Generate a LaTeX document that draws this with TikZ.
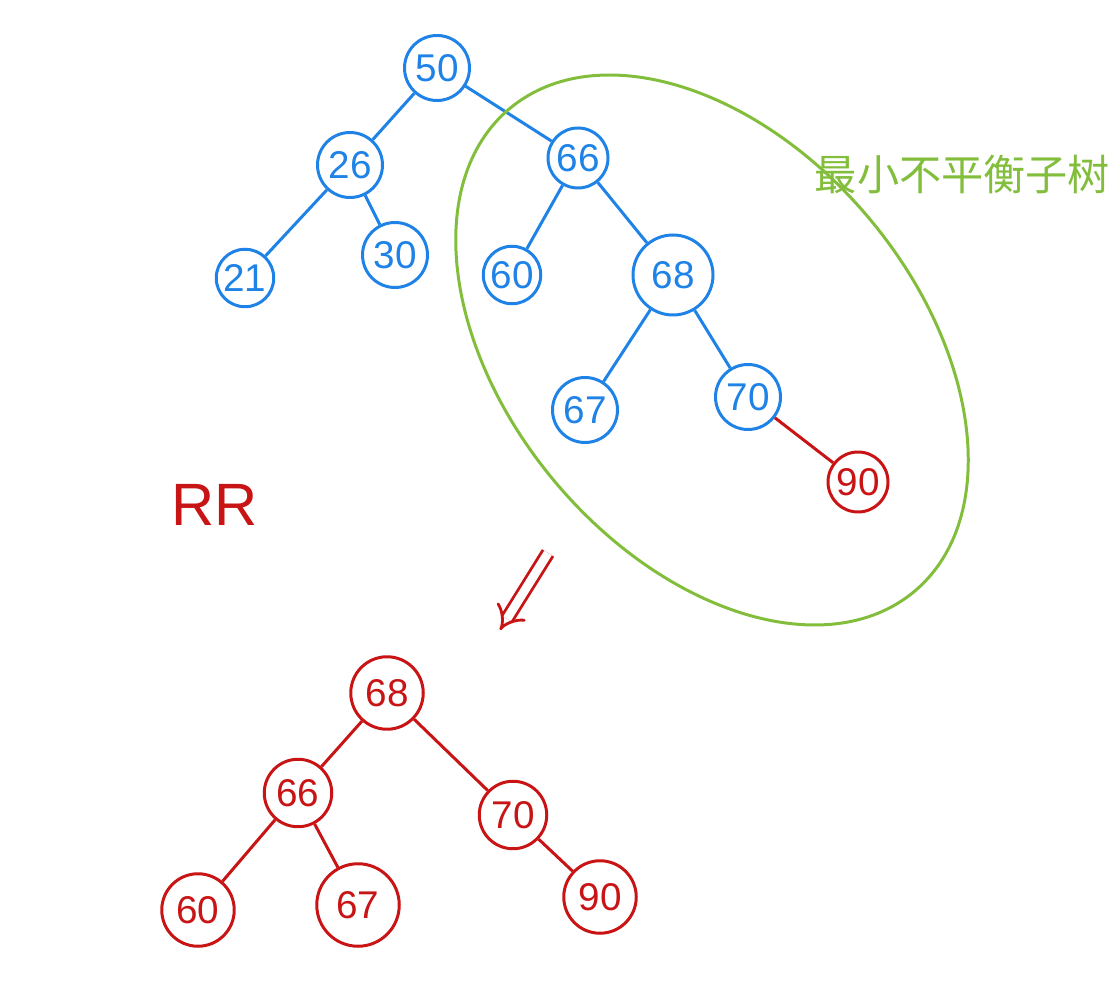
\documentclass[tikz,border=0pt]{standalone}
\usepackage{fontspec}
\setmainfont{Liberation Sans}
\newfontfamily\cjk{Noto Sans CJK SC}
\usetikzlibrary{arrows.meta, positioning}
\definecolor{oldcol}{HTML}{1E82E6}
\definecolor{newcol}{HTML}{C81414}
\definecolor{subcol}{HTML}{82BE3C}
\tikzset{
  onode/.style={circle, draw=oldcol, text=oldcol, line width=1.7pt, minimum size=1.3cm, inner sep=1pt, font=\fontsize{22}{24}\selectfont},
  rnode/.style={circle, draw=newcol, text=newcol, line width=1.7pt, minimum size=1.45cm, inner sep=1pt, font=\fontsize{22}{24}\selectfont},
  oedge/.style={draw=oldcol, line width=1.7pt},
  redge/.style={draw=newcol, line width=1.7pt},
}

\begin{document}
\begin{tikzpicture}
  \useasboundingbox (0,0) rectangle (22.32,20);
  % ── tree before rotation (blue) ──────────────────────────────────
  \node[onode] (t50) at ( 8.74,18.64) {50};
  \node[onode] (t26) at ( 7.00,16.70) {26};
  \node[onode, minimum size=1.15cm] (t21) at ( 4.90,14.44) {21};
  \node[onode] (t30) at ( 7.90,14.90) {30};
  \node[onode, minimum size=1.2cm] (t66) at (11.56,16.84) {66};
  \node[onode, minimum size=1.15cm] (t60) at (10.24,14.50) {60};
  \node[onode, minimum size=1.6cm] (t68) at (13.46,14.50) {68};
  \node[onode] (t67) at (11.70,11.80) {67};
  \node[onode] (t70) at (14.96,12.06) {70};
  \node[rnode, minimum size=1.2cm] (t90) at (17.16,10.36) {90};
  \draw[oedge] (t50) -- (t26);
  \draw[oedge] (t50) -- (t66);
  \draw[oedge] (t26) -- (t21);
  \draw[oedge] (t26) -- (t30);
  \draw[oedge] (t66) -- (t60);
  \draw[oedge] (t66) -- (t68);
  \draw[oedge] (t68) -- (t67);
  \draw[oedge] (t68) -- (t70);
  \draw[redge] (t70) -- (t90);
  % ── minimal unbalanced subtree ───────────────────────────────────
  \draw[subcol, line width=1.7pt, shift={(14.24,13.0)}, rotate=-50]
    (0,0) ellipse [x radius=6.3, y radius=4.1];
  \node[text=subcol, font=\cjk\fontsize{24}{26}\selectfont] (sub) at (19.25,16.5) {最小不平衡子树};
  % ── rotation label and arrow ─────────────────────────────────────
  \node[text=newcol, font=\fontsize{34}{36}\selectfont] (rr) at (4.3,9.9) {RR};
  \coordinate (arrS) at (10.96,8.94);
  \coordinate (arrE) at (10.00,7.40);
  \draw[newcol, line width=1.6pt, double distance=5pt, -{Implies[length=12pt]}] (arrS) -- (arrE);
  % ── tree after rotation (red) ────────────────────────────────────
  \node[rnode] (b68) at ( 7.74, 6.14) {68};
  \node[rnode, minimum size=1.35cm] (b66) at ( 5.96, 4.14) {66};
  \node[rnode, minimum size=1.35cm] (b70) at (10.26, 3.70) {70};
  \node[rnode] (b60) at ( 3.96, 1.80) {60};
  \node[rnode, minimum size=1.65cm] (b67) at ( 7.16, 1.90) {67};
  \node[rnode] (b90) at (12.00, 2.06) {90};
  \draw[redge] (b68) -- (b66);
  \draw[redge] (b68) -- (b70);
  \draw[redge] (b66) -- (b60);
  \draw[redge] (b66) -- (b67);
  \draw[redge] (b70) -- (b90);
\end{tikzpicture}
\end{document}
